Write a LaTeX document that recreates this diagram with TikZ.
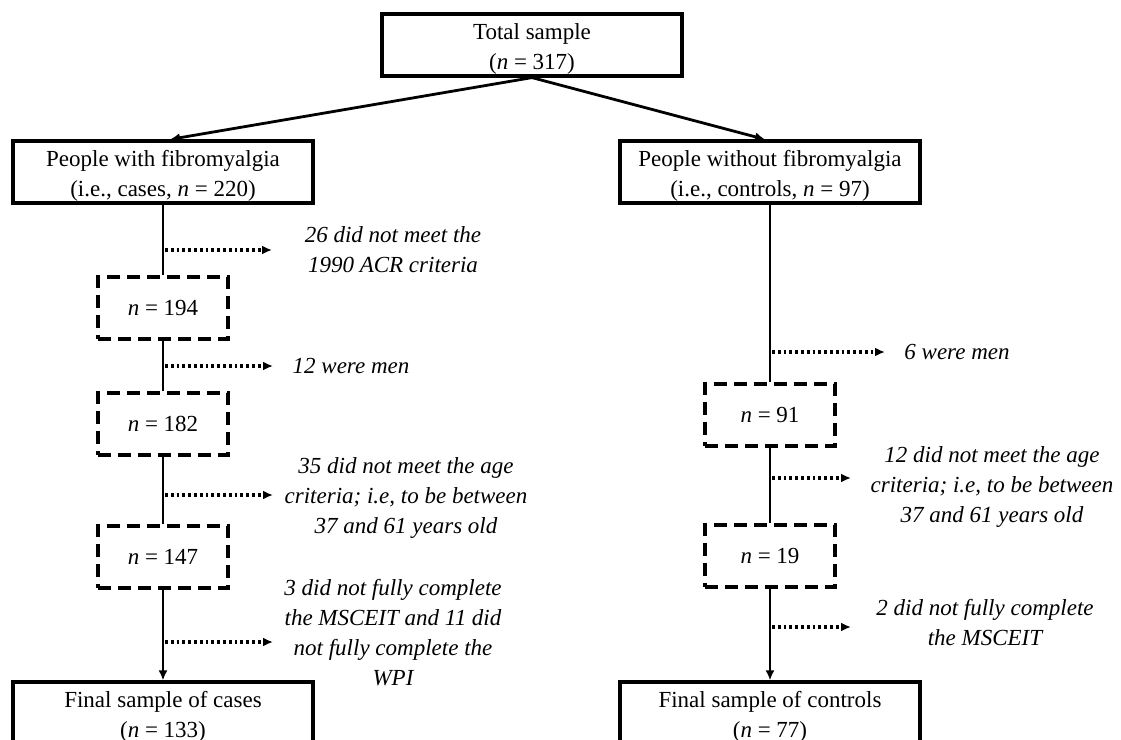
\documentclass[tikz,border=0pt]{standalone}
\usepackage{fontspec}
\setmainfont{Liberation Serif}
\usetikzlibrary{arrows.meta}

\begin{document}
\begin{tikzpicture}[x=0.5pt,y=-0.5pt,
    box/.style={draw,line width=1.6pt,minimum width=150pt,minimum height=31pt,align=center,
      text height=27pt,text depth=3pt},
    dbox/.style={draw,line width=1.6pt,dash pattern=on 6.5pt off 3.5pt,minimum width=65pt,minimum height=31pt},
    note/.style={align=center,font=\fontsize{11.5}{15}\selectfont\itshape},
    link/.style={line width=1.4pt},
    linkarrow/.style={line width=1.4pt,-{Latex[length=5pt,width=4.5pt]}},
    dotarrow/.style={line width=1.6pt,dash pattern=on 1.4pt off 1.5pt,-{Latex[length=5pt,width=4.5pt]}}]
    \tikzstyle{every node}+=[inner sep=0pt,font=\fontsize{11.5}{15}\selectfont]
    \useasboundingbox (0,0) rectangle (1121,740);
    \clip (0,0) rectangle (1121,740);
    % top and the two groups
    \node[box] (total) at (532,45) {Total sample\\(\textit{n} = 317)};
    \node[box] (lbox) at (163,172) {People with fibromyalgia\\(i.e., cases, \textit{n} = 220)};
    \node[box] (rbox) at (770,172) {People without fibromyalgia\\(i.e., controls, \textit{n} = 97)};
    \draw[linkarrow] (total.south) -- ([xshift=3.5pt]lbox.north);
    \draw[linkarrow] (total.south) -- ([xshift=-2.5pt]rbox.north);
    % cases
    \node[dbox] (b194) at (163,308) {\textit{n} = 194};
    \node[dbox] (b182) at (163,424) {\textit{n} = 182};
    \node[dbox] (b147) at (163,557) {\textit{n} = 147};
    \node[box] (lfin) at (163,713) {Final sample of cases\\(\textit{n} = 133)};
    \draw[link] (lbox) -- (b194);
    \draw[link] (b194) -- (b182);
    \draw[link] (b182) -- (b147);
    \draw[linkarrow] (b147) -- (lfin);
    \node[note] (n26) at (393,250) {26 did not meet the\\1990 ACR criteria};
    \node[note] (nmen12) at (351,366) {12 were men};
    \node[note] (nage35) at (406,498) {35 did not meet the age\\criteria; i.e, to be between\\37 and 61 years old};
    \node[note] (nmsc3) at (393,633) {3 did not fully complete\\the MSCEIT and 11 did\\not fully complete the\\WPI};
    \coordinate (e26) at (272,250);
    \coordinate (emen12) at (273,366);
    \coordinate (eage35) at (273,495);
    \coordinate (emsc3) at (273,642);
    \draw[dotarrow] ([xshift=1pt]e26 -| lbox.south) -- (e26);
    \draw[dotarrow] ([xshift=1pt]emen12 -| lbox.south) -- (emen12);
    \draw[dotarrow] ([xshift=1pt]eage35 -| lbox.south) -- (eage35);
    \draw[dotarrow] ([xshift=1pt]emsc3 -| lbox.south) -- (emsc3);
    % controls
    \node[dbox] (b91) at (770,415) {\textit{n} = 91};
    \node[dbox] (b19) at (770,556) {\textit{n} = 19};
    \node[box] (rfin) at (770,713) {Final sample of controls\\(\textit{n} = 77)};
    \draw[link] (rbox) -- (b91);
    \draw[link] (b91) -- (b19);
    \draw[linkarrow] (b19) -- (rfin);
    \node[note] (nmen6) at (957,352) {6 were men};
    \node[note] (nage12) at (992,487) {12 did not meet the age\\criteria; i.e, to be between\\37 and 61 years old};
    \node[note] (nmsc2) at (985,623) {2 did not fully complete\\the MSCEIT};
    \coordinate (emen6) at (885,352);
    \coordinate (eage12) at (851,478);
    \coordinate (emsc2) at (851,627);
    \draw[dotarrow] ([xshift=1pt]emen6 -| rbox.south) -- (emen6);
    \draw[dotarrow] ([xshift=1pt]eage12 -| rbox.south) -- (eage12);
    \draw[dotarrow] ([xshift=1pt]emsc2 -| rbox.south) -- (emsc2);
\end{tikzpicture}
\end{document}
